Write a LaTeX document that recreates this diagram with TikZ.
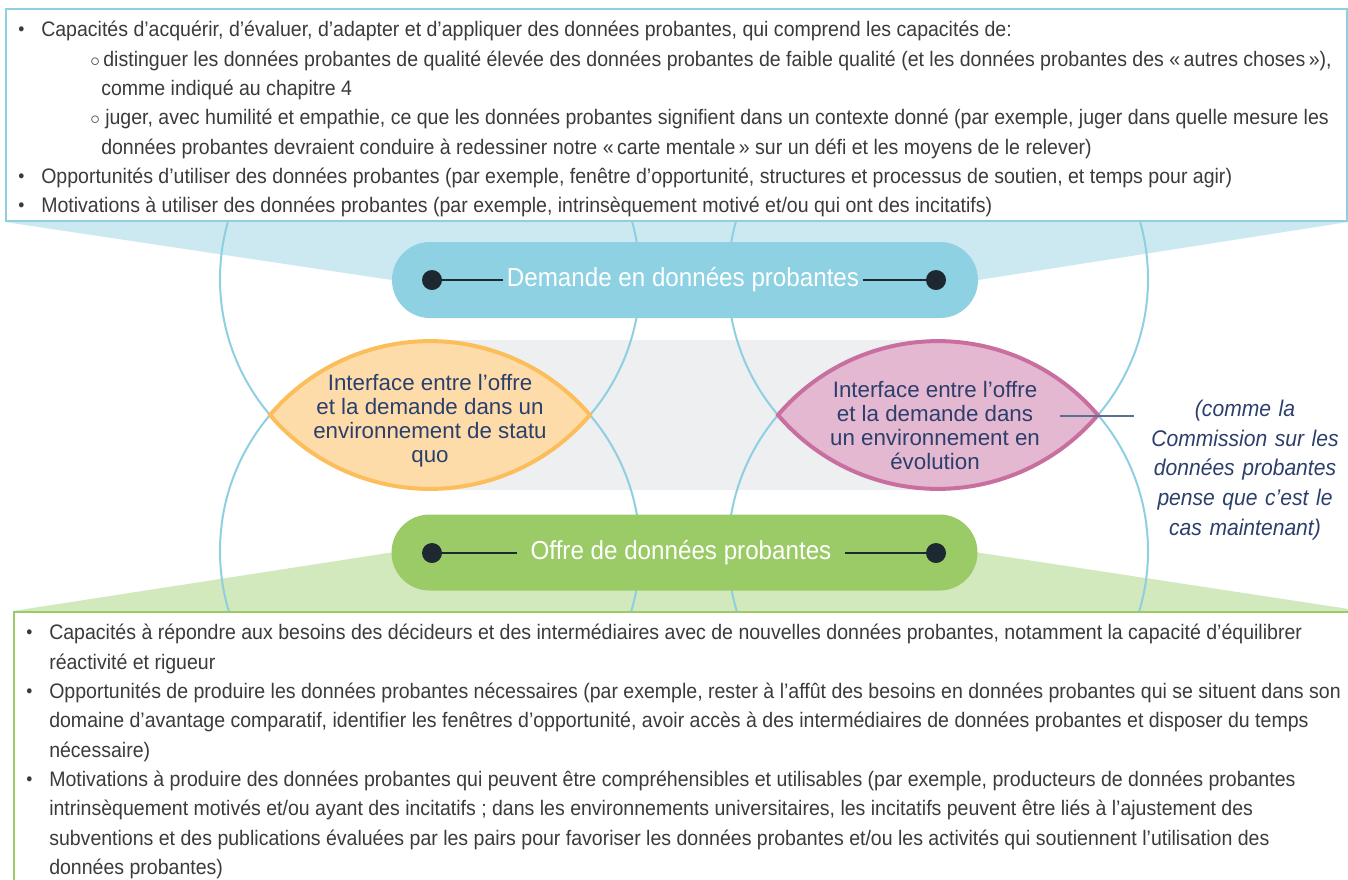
\documentclass[tikz,border=0pt]{standalone}
\usepackage{fontspec}
\setmainfont{Liberation Sans}[FakeStretch=0.93]
\newfontfamily\lensfont{Liberation Sans}
\usetikzlibrary{positioning}

\definecolor{ringblue}{HTML}{8FCFE2}
\definecolor{blufunnel}{HTML}{CCE9F1}
\definecolor{demblue}{HTML}{8DD1E3}
\definecolor{offgreen}{HTML}{9BCB66}
\definecolor{grnfunnel}{HTML}{D2E8BD}
\definecolor{bandgray}{HTML}{EDEFF1}
\definecolor{quofill}{HTML}{FDDCAA}
\definecolor{quoline}{HTML}{FBBE5A}
\definecolor{evofill}{HTML}{E4B8D1}
\definecolor{evoline}{HTML}{C86FA0}
\definecolor{navy}{HTML}{2C3F6C}
\definecolor{bodygray}{HTML}{3B3B3B}
\definecolor{dotgray}{HTML}{1E2830}
\definecolor{tickgray}{HTML}{5B6F8F}

\newcommand{\listbullet}{\makebox[17.25pt][l]{\raisebox{0.6pt}{\fontsize{14}{14}\selectfont\textbullet}}}

\pgfdeclarelayer{back}
\pgfsetlayers{back,main}

\begin{document}
\begin{tikzpicture}[x=0.75pt, y=-0.75pt,
    box/.style={rectangle, draw, line width=1.5pt, fill=white, inner sep=0pt},
    listtext/.style={align=left, inner sep=0pt, text=bodygray, font=\fontsize{15.75}{22}\selectfont},
    pill/.style={rectangle, rounded corners=28.5pt, minimum width=439.5pt, minimum height=57pt, inner sep=0pt},
    pilltext/.style={text=white, font=\fontsize{19.5}{22}\selectfont},
    dot/.style={circle, fill=dotgray, inner sep=0pt, minimum size=15pt},
    stem/.style={draw=dotgray, line width=2.2pt},
    ring/.style={draw=ringblue, line width=1.5pt},
    lens/.style={line width=3pt},
    lenstext/.style={align=center, text=navy, font=\lensfont\fontsize{16.75}{18}\selectfont},
    notetext/.style={align=center, text width=142.5pt, inner sep=0pt, text=navy, font=\fontsize{17}{22.3}\selectfont\itshape}]
\useasboundingbox (0,0) rectangle (1348,879);
\clip (0,0) rectangle (1348,879);

% boxes
\node[box, draw=ringblue, anchor=north west, minimum width=1005.75pt, minimum height=159pt] (demandebox) at (5,8) {};
\node[box, draw=offgreen, anchor=north west, minimum width=1010.25pt, minimum height=225pt] (offrebox) at (13,611) {};

\node[listtext, anchor=north west] (demlist) at (18,21) {%
\listbullet Capacités d’acquérir, d’évaluer, d’adapter et d’appliquer des données probantes, qui comprend les capacités de:\\
\hspace*{54pt}$\circ$\,distinguer les données probantes de qualité élevée des données probantes de faible qualité (et les données probantes des «\,autres choses\,»),\\
\hspace*{62.25pt}comme indiqué au chapitre 4\\
\hspace*{54pt}$\circ$ juger, avec humilité et empathie, ce que les données probantes signifient dans un contexte donné (par exemple, juger dans quelle mesure les\\
\hspace*{62.25pt}données probantes devraient conduire à redessiner notre «\,carte mentale\,» sur un défi et les moyens de le relever)\\
\listbullet Opportunités d’utiliser des données probantes (par exemple, fenêtre d’opportunité, structures et processus de soutien, et temps pour agir)\\
\listbullet Motivations à utiliser des données probantes (par exemple, intrinsèquement motivé et/ou qui ont des incitatifs)};

\node[listtext, anchor=north west] (offlist) at (26,624) {%
\listbullet Capacités à répondre aux besoins des décideurs et des intermédiaires avec de nouvelles données probantes, notamment la capacité d’équilibrer\\
\hspace*{17.25pt}réactivité et rigueur\\
\listbullet Opportunités de produire les données probantes nécessaires (par exemple, rester à l’affût des besoins en données probantes qui se situent dans son\\
\hspace*{17.25pt}domaine d’avantage comparatif, identifier les fenêtres d’opportunité, avoir accès à des intermédiaires de données probantes et disposer du temps\\
\hspace*{17.25pt}nécessaire)\\
\listbullet Motivations à produire des données probantes qui peuvent être compréhensibles et utilisables (par exemple, producteurs de données probantes\\
\hspace*{17.25pt}intrinsèquement motivés et/ou ayant des incitatifs ; dans les environnements universitaires, les incitatifs peuvent être liés à l’ajustement des\\
\hspace*{17.25pt}subventions et des publications évaluées par les pairs pour favoriser les données probantes et/ou les activités qui soutiennent l’utilisation des\\
\hspace*{17.25pt}données probantes)};

% pills
\node[pill, fill=demblue] (demande) at (685,280) {};
\node[pilltext, inner xsep=3pt] (demtxt) at (683,280) {Demande en données probantes};
\node[dot] (dem1) at (432,280) {};
\node[dot] (dem2) at (936,280) {};
\draw[stem] (dem1.center) -- (demtxt.west);
\draw[stem] (demtxt.east) -- (dem2.center);

\node[pill, fill=offgreen] (offre) at (684.5,552.5) {};
\node[pilltext, inner xsep=10pt] (offtxt) at (681,553) {Offre de données probantes};
\node[dot] (off1) at (432,553) {};
\node[dot] (off2) at (936,553) {};
\draw[stem] (off1.center) -- (offtxt.west);
\draw[stem] (offtxt.east) -- (off2.center);

% lenses
\filldraw[lens, draw=quoline, fill=quofill] (270,415) arc[start angle=139.6, end angle=40.4, radius=157.5pt] arc[start angle=-40.4, end angle=-139.6, radius=157.5pt] -- cycle;
\filldraw[lens, draw=evoline, fill=evofill] (778,415) arc[start angle=139.6, end angle=40.4, radius=157.5pt] arc[start angle=-40.4, end angle=-139.6, radius=157.5pt] -- cycle;
\node[lenstext] (quotxt) at (430,421) {Interface entre l’offre\\et la demande dans un\\environnement de statu\\quo};
\node[lenstext] (evotxt) at (935,426) {Interface entre l’offre\\et la demande dans\\un environnement en\\évolution};

\node[notetext] (note) at (1245,470) {(comme la\\Commission sur les\\données probantes\\pense que c’est le\\cas maintenant)};
\coordinate (tick) at (1060,416);
\draw[draw=tickgray, line width=1.2pt, shorten >=12pt] (tick) -- (tick -| note.west);

\begin{pgfonlayer}{back}
  % funnels
  \fill[blufunnel] (demandebox.south west) -- (demandebox.south east) -- (demande.east) -- (demande.west) -- cycle;
  \fill[grnfunnel] (offrebox.north west) -- (offrebox.north east) -- (offre.east) -- (offre.west) -- cycle;
  \fill[bandgray] (430,340) rectangle (938,490);
  % rings
  \foreach \cx in {430,938}
    \foreach \cy in {279,551}
      \draw[ring] (\cx,\cy) circle[radius=157.5pt];
\end{pgfonlayer}
\end{tikzpicture}
\end{document}
